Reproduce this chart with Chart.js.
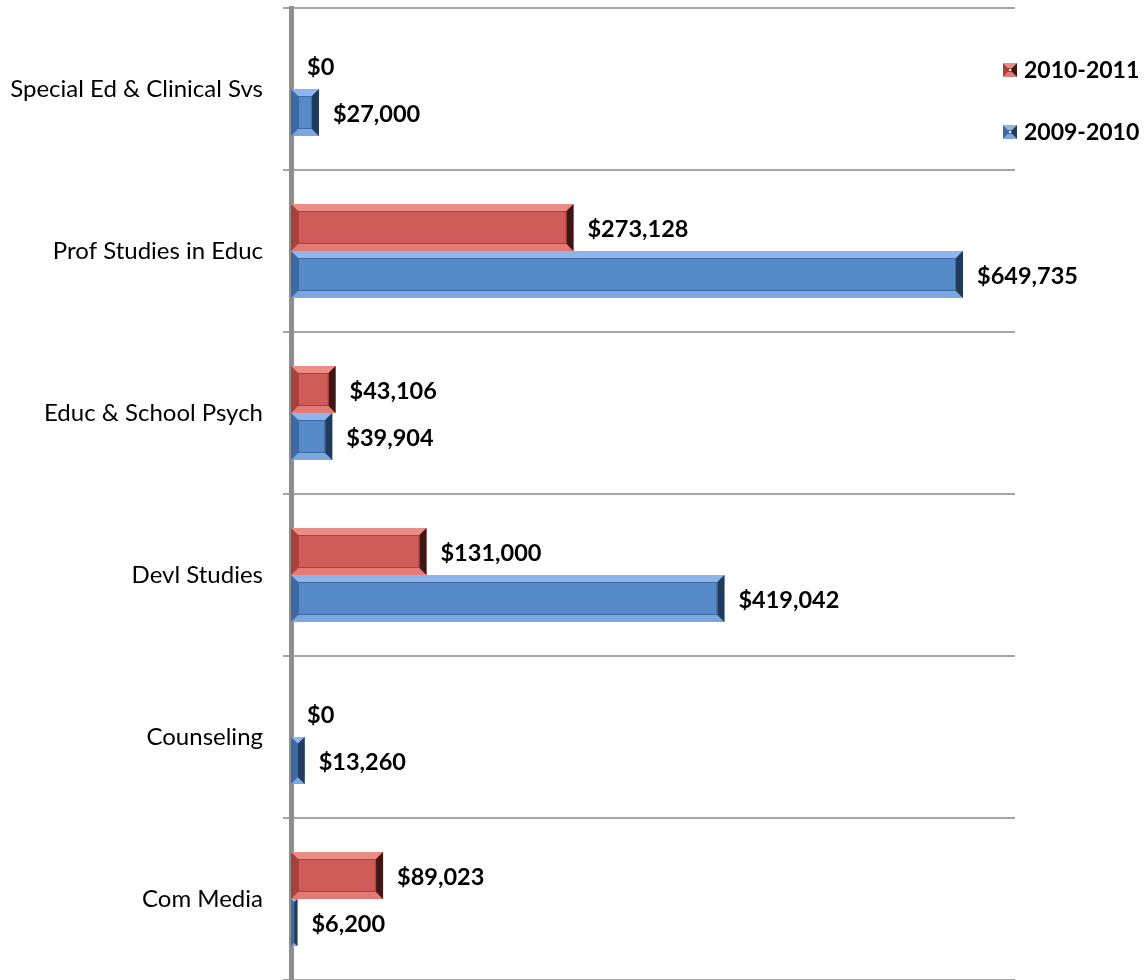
<!DOCTYPE html>
<html>
<head>
<meta charset="utf-8">
<script src="https://cdn.jsdelivr.net/npm/chart.js@4/dist/chart.umd.min.js"></script>
<style>
  html, body { margin: 0; padding: 0; background: #fff; }
  #wrap { width: 1144px; height: 980px; position: relative; }
</style>
</head>
<body>
<div id="wrap"><canvas id="budget-chart"></canvas></div>
<script>
// Chart data
const categories = ['Special Ed & Clinical Svs', 'Prof Studies in Educ', 'Educ & School Psych', 'Devl Studies', 'Counseling', 'Com Media'];
const seriesNames = ['2010-2011', '2009-2010'];
const values2010 = [0, 273128, 43106, 131000, 0, 89023];
const values2009 = [27000, 649735, 39904, 419042, 13260, 6200];
const xMax = 700000;

const COLORS = {
    red:  { fill: '#CF5C58', light: '#EC8C87', mid: '#A8403C', dark: '#3E1715', bottom: '#E47A75' },
    blue: { fill: '#578AC9', light: '#8EB6EA', mid: '#3D6AA4', dark: '#223A5C', bottom: '#7BA6DE' }
};
const FONT = 'Lato, "Open Sans", sans-serif';

const money = v => '$' + v.toLocaleString('en-US');

// draw a bevelled box (used for bars and legend keys)
function bevelBox(ctx, l, t, w, h, pal, size) {
    const r = l + w, bo = t + h;
    const b = Math.min(size, w / 2, h / 2);
    const poly = (pts, color) => {
        ctx.beginPath();
        ctx.moveTo(pts[0][0], pts[0][1]);
        pts.slice(1).forEach(q => ctx.lineTo(q[0], q[1]));
        ctx.closePath();
        ctx.fillStyle = color;
        ctx.fill();
    };
    poly([[l, t], [r, t], [r - b, t + b], [l + b, t + b]], pal.light);
    poly([[l, bo], [r, bo], [r - b, bo - b], [l + b, bo - b]], pal.bottom);
    poly([[l, t], [l + b, t + b], [l + b, bo - b], [l, bo]], pal.mid);
    poly([[r, t], [r - b, t + b], [r - b, bo - b], [r, bo]], pal.dark);
    if (w > 2 * b + 2) {
        ctx.strokeStyle = pal.mid;
        ctx.lineWidth = 1;
        ctx.strokeRect(l + b + 0.5, t + b + 0.5, w - 2 * b - 1, h - 2 * b - 1);
    }
}

// Bevel look on bars
const bevelPlugin = {
    id: 'bevel',
    afterDatasetsDraw(chart) {
        const ctx = chart.ctx;
        chart.data.datasets.forEach((ds, i) => {
            chart.getDatasetMeta(i).data.forEach(el => {
                const p = el.getProps(['x', 'y', 'base', 'height'], true);
                const l = Math.min(p.x, p.base), w = Math.abs(p.x - p.base);
                if (w < 1) return;
                ctx.save();
                bevelBox(ctx, l, p.y - p.height / 2, w, p.height, ds.palette, 7);
                ctx.restore();
            });
        });
    }
};

// Value labels to the right of bars
const valueLabelPlugin = {
    id: 'valueLabels',
    afterDatasetsDraw(chart) {
        const ctx = chart.ctx;
        ctx.save();
        ctx.font = 'bold 23.5px ' + FONT;
        ctx.fillStyle = '#000';
        ctx.textBaseline = 'middle';
        ctx.textAlign = 'left';
        chart.data.datasets.forEach((ds, i) => {
            chart.getDatasetMeta(i).data.forEach((el, j) => {
                const p = el.getProps(['x', 'y'], true);
                ctx.fillText(money(ds.data[j]), Math.max(p.x, 293) + 14, p.y + 2);
            });
        });
        ctx.restore();
    }
};

// Legend in the top right corner
const sideLegendPlugin = {
    id: 'sideLegend',
    afterDraw(chart) {
        const ctx = chart.ctx;
        const rows = [70, 132];
        ctx.save();
        ctx.font = 'bold 23px ' + FONT;
        ctx.textBaseline = 'middle';
        chart.data.datasets.forEach((ds, i) => {
            const y = rows[i];
            bevelBox(ctx, 1003, y - 7, 14, 14, ds.palette, 5);
            ctx.fillStyle = '#000';
            ctx.fillText(ds.label, 1024, y + 1);
        });
        ctx.restore();
    }
};

const ctx = document.getElementById('budget-chart').getContext('2d');
new Chart(ctx, {
    type: 'bar',
    data: {
        labels: categories,
        datasets: [{
            label: seriesNames[0],
            data: values2010,
            backgroundColor: COLORS.red.fill,
            palette: COLORS.red,
            borderWidth: 0
        }, {
            label: seriesNames[1],
            data: values2009,
            backgroundColor: COLORS.blue.fill,
            palette: COLORS.blue,
            borderWidth: 0
        }]
    },
    options: {
        indexAxis: 'y',
        responsive: true,
        maintainAspectRatio: false,
        animation: false,
        categoryPercentage: 0.58,
        barPercentage: 1,
        layout: { padding: { top: 8, right: 129, bottom: 0, left: 0 } },
        plugins: {
            legend: { display: false },
            tooltip: { enabled: false }
        },
        scales: {
            x: {
                display: false,
                min: 0,
                max: xMax
            },
            y: {
                z: 1,
                afterFit(scale) {
                    scale.width = 291;
                    scale.paddingTop = 0;
                    scale.paddingBottom = 0;
                },
                border: { display: true, color: '#8E8E8E', width: 5 },
                grid: {
                    display: true,
                    offset: true,
                    color: '#A6A6A6',
                    lineWidth: 2,
                    drawTicks: true,
                    tickLength: 8
                },
                ticks: {
                    color: '#000',
                    padding: 20,
                    font: { family: FONT, size: 24 }
                }
            }
        }
    },
    plugins: [bevelPlugin, valueLabelPlugin, sideLegendPlugin]
});
</script>
</body>
</html>
